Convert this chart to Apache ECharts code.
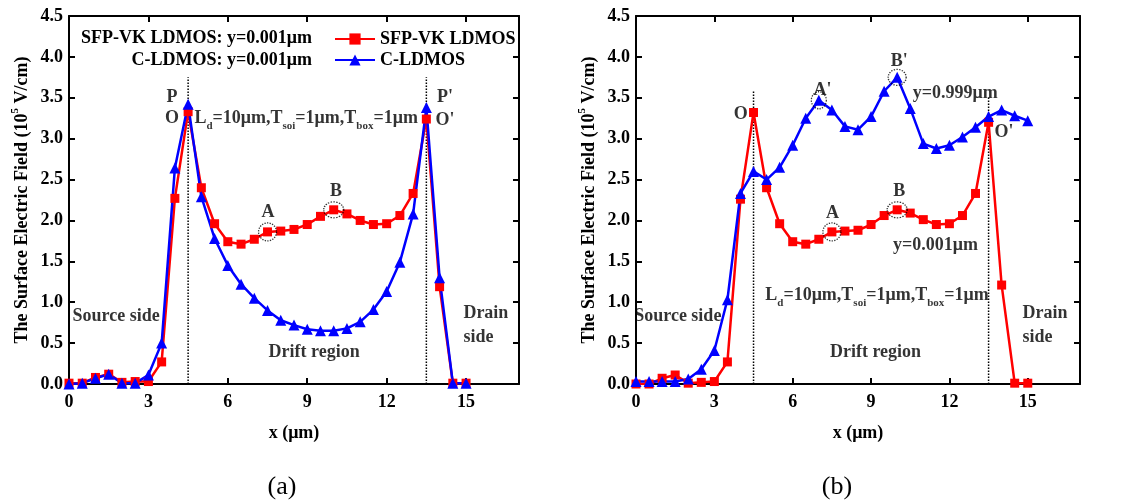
<!DOCTYPE html>
<html>
<head>
<meta charset="utf-8">
<script src="https://cdn.jsdelivr.net/npm/echarts@6/dist/echarts.min.js"></script>
<style>
html,body{margin:0;padding:0;background:#fff;}
#chart{width:1126px;height:502px;}
</style>
</head>
<body>
<div id="chart"></div>
<script>
// ---------- data ----------
const xPos = [0,0.5,1,1.5,2,2.5,3,3.5,4,4.5,5,5.5,6,6.5,7,7.5,8,8.5,9,9.5,10,10.5,11,11.5,12,12.5,13,13.5,14,14.5,15];
// panel (a)
const sfpA = [0.01,0.01,0.08,0.12,0.02,0.03,0.03,0.27,2.27,3.33,2.40,1.96,1.74,1.71,1.77,1.86,1.87,1.89,1.95,2.05,2.13,2.08,2.00,1.95,1.96,2.06,2.33,3.24,1.19,0.01,0.01];
const cA   = [0.00,0.01,0.07,0.12,0.01,0.01,0.11,0.50,2.64,3.42,2.29,1.78,1.45,1.22,1.05,0.90,0.78,0.72,0.67,0.65,0.65,0.68,0.76,0.91,1.13,1.49,2.08,3.38,1.30,0.01,0.01];
// panel (b)
const y001B = [0.00,0.00,0.07,0.11,0.01,0.02,0.03,0.27,2.26,3.32,2.40,1.96,1.74,1.71,1.77,1.86,1.87,1.88,1.95,2.06,2.13,2.09,2.01,1.95,1.96,2.06,2.33,3.20,1.21,0.01,0.01];
const y999B = [0.03,0.03,0.03,0.03,0.06,0.18,0.41,1.03,2.33,2.60,2.50,2.65,2.92,3.25,3.47,3.35,3.15,3.11,3.27,3.58,3.75,3.37,2.94,2.88,2.92,3.02,3.14,3.27,3.35,3.28,3.22];
const seriesNames = ['SFP-VK LDMOS','C-LDMOS'];
const xTicks = [0,3,6,9,12,15];
const yTickLabels = ['0.0','0.5','1.0','1.5','2.0','2.5','3.0','3.5','4.0','4.5'];
// dotted guide lines [x, top]
const guidesA = [[4.5,3.75],[13.5,3.75]];
const guidesB = [[4.5,3.58],[13.5,3.51]];
// dotted ellipses [x, y, w, h]
const ringsA = [[7.5,1.86,18,18],[10,2.13,20,16]];
const ringsB = [[7.5,1.86,18,18],[10,2.13,20,16],[7,3.47,15,17],[10,3.75,18,16]];

const LD = '{n|L}{s|d}{n|=10\u03bcm,T}{s|soi}{n|=1\u03bcm,T}{s|box}{n|=1\u03bcm}';
const notesA = [
  {t:'P', x:3.89, y:3.51, a:'c'},
  {t:'O', x:3.89, y:3.25, a:'c'},
  {t:LD, x:4.72, y:3.25, a:'l'},
  {t:"P'", x:14.2, y:3.50, a:'c'},
  {t:"O'", x:14.2, y:3.23, a:'c'},
  {t:'A', x:7.52, y:2.10, a:'c'},
  {t:'B', x:10.09, y:2.36, a:'c'},
  {t:'Source side', x:1.78, y:0.83, a:'c'},
  {t:'Drift region', x:9.26, y:0.39, a:'c'},
  {t:'Drain', x:14.88, y:0.87, a:'l'},
  {t:'side', x:14.88, y:0.57, a:'l'}
];
const notesB = [
  {t:'O', x:4.01, y:3.30, a:'c'},
  {t:"A'", x:7.14, y:3.59, a:'c'},
  {t:"B'", x:10.08, y:3.94, a:'c'},
  {t:'y=0.999\u03bcm', x:10.58, y:3.55, a:'l'},
  {t:"O'", x:14.09, y:3.08, a:'c'},
  {t:'B', x:10.08, y:2.36, a:'c'},
  {t:'A', x:7.52, y:2.09, a:'c'},
  {t:'y=0.001\u03bcm', x:9.82, y:1.70, a:'l'},
  {t:LD, x:4.93, y:1.09, a:'l'},
  {t:'Source side', x:1.6, y:0.83, a:'c'},
  {t:'Drift region', x:9.17, y:0.39, a:'c'},
  {t:'Drain', x:14.78, y:0.87, a:'l'},
  {t:'side', x:14.78, y:0.57, a:'l'}
];

// ---------- styling ----------
const FF = '"Liberation Serif","Times New Roman",serif';
const RED = '#ff0000', BLUE = '#0000ff';
const rich = {
  n:{fontFamily:FF,fontWeight:'bold',fontSize:18,color:'#000'},
  s:{fontFamily:FF,fontWeight:'bold',fontSize:11,color:'#000',verticalAlign:'bottom',padding:[16,0,0,0]},
  sup:{fontFamily:FF,fontWeight:'bold',fontSize:11,color:'#000',verticalAlign:'top',padding:[0,0,14,0]}
};
const grids = [
  {left:69, top:16, width:450, height:368},
  {left:636, top:16, width:444, height:368}
];
function xAx(gi, top){
  return {type:'value', gridIndex:gi, position: top?'top':'bottom', min:0, max:17, interval:3,
    axisLine:{onZero:false, lineStyle:{color:'#000', width:2}},
    axisTick:{inside:true, length:6, lineStyle:{color:'#000', width:2}},
    splitLine:{show:false},
    axisLabel:{show:!top, showMaxLabel:false, margin:9, color:'#000', fontFamily:FF, fontWeight:'bold', fontSize:18},
    name: top?'':'x (\u03bcm)', nameLocation:'middle', nameGap:40,
    nameTextStyle:{color:'#000', fontFamily:FF, fontWeight:'bold', fontSize:18}};
}
function yAx(gi, right){
  return {type:'value', gridIndex:gi, position: right?'right':'left', min:0, max:4.5, interval:0.5,
    axisLine:{onZero:false, lineStyle:{color:'#000', width:2}},
    axisTick:{inside:true, length:6, lineStyle:{color:'#000', width:2}},
    splitLine:{show:false},
    axisLabel:{show:!right, margin:6, color:'#000', fontFamily:FF, fontWeight:'bold', fontSize:18,
      formatter:(v)=>yTickLabels[Math.round(v*2)]},
    name: right?'':'{n|The Surface Electric Field (10}{sup|5}{n| V/cm)}', nameLocation:'middle', nameGap:34,
    nameTextStyle:{color:'#000', fontFamily:FF, fontWeight:'bold', fontSize:18, rich:rich}};
}
function pairs(vals){ return xPos.map((x,i)=>[x, vals[i]]); }
function dataLine(name, vals, xi, color, sym, size){
  return {type:'line', name:name, xAxisIndex:xi, yAxisIndex:xi, data:pairs(vals),
    symbol:sym, symbolSize:size, showSymbol:true, lineStyle:{color:color, width:2.5},
    itemStyle:{color:color}, z:3};
}
function guideSeries(g, xi){
  return g.map(p=>({type:'line', xAxisIndex:xi, yAxisIndex:xi, silent:true, symbol:'none',
    data:[[p[0],0],[p[0],p[1]]], lineStyle:{color:'#000', width:1.5, type:'dotted'}, z:2}));
}
function ringSeries(r, xi){
  return r.map(p=>({type:'scatter', xAxisIndex:xi, yAxisIndex:xi, silent:true, symbol:'circle',
    symbolSize:[p[2],p[3]], data:[[p[0],p[1]]],
    itemStyle:{color:'rgba(0,0,0,0)', borderColor:'#000', borderWidth:1.3, borderType:'dotted'}, z:4}));
}
function noteSeries(list, xi){
  return list.map(a=>({type:'scatter', xAxisIndex:xi, yAxisIndex:xi, silent:true, symbolSize:1,
    itemStyle:{color:'rgba(0,0,0,0)'}, data:[[a.x,a.y]], z:6,
    label:{show:true, position: a.a==='l'?'right':'inside', distance:0,
      formatter: a.t.indexOf('{')===0 ? a.t : '{n|'+a.t+'}', rich:rich}}));
}

const chart = echarts.init(document.getElementById('chart'), null, {renderer:'canvas'});
const option = {
  animation:false,
  backgroundColor:'#fff',
  grid: grids,
  xAxis:[xAx(0,false), xAx(0,true), xAx(1,false), xAx(1,true)],
  yAxis:[yAx(0,false), yAx(0,true), yAx(1,false), yAx(1,true)],
  legend:{data:seriesNames, orient:'vertical', left:329, top:25, itemWidth:40, itemHeight:14, itemGap:3,
    textStyle:{color:'#000', fontFamily:FF, fontWeight:'bold', fontSize:18, lineHeight:18}},
  graphic:[
    {type:'text', right:1126-312, top:29, style:{text:'SFP-VK LDMOS: y=0.001\u03bcm', fill:'#000', font:'bold 18px '+FF}},
    {type:'text', right:1126-312, top:51, style:{text:'C-LDMOS: y=0.001\u03bcm', fill:'#000', font:'bold 18px '+FF}},
    {type:'text', x:282, y:487, style:{text:'(a)', fill:'#000', font:'26px '+FF, textAlign:'center', textVerticalAlign:'middle'}},
    {type:'text', x:837, y:487, style:{text:'(b)', fill:'#000', font:'26px '+FF, textAlign:'center', textVerticalAlign:'middle'}}
  ],
  series:[].concat(
    guideSeries(guidesA,0), guideSeries(guidesB,2),
    ringSeries(ringsA,0), ringSeries(ringsB,2),
    [dataLine(seriesNames[0], sfpA, 0, RED, 'rect', 9),
     dataLine(seriesNames[1], cA, 0, BLUE, 'triangle', 11),
     dataLine('SFP-VK LDMOS (b)', y001B, 2, RED, 'rect', 9),
     dataLine('C-LDMOS (b)', y999B, 2, BLUE, 'triangle', 11)],
    noteSeries(notesA,0), noteSeries(notesB,2)
  )
};
chart.setOption(option);
</script>
</body>
</html>
